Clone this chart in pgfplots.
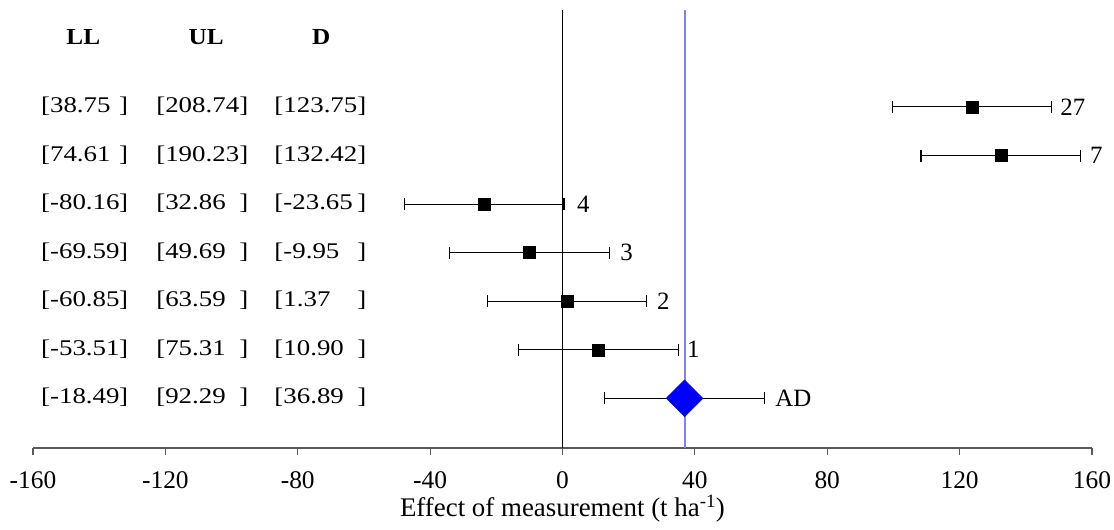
\documentclass[border=0pt]{standalone}
\usepackage{pgfplots}
\pgfplotsset{compat=1.18}
\usepackage{fontspec}
\setmainfont{Liberation Serif}
\newfontfamily\rowfont[FakeStretch=1.2]{Liberation Serif}
\newfontfamily\headfont[FakeStretch=1.1]{Liberation Serif}
\definecolor{axgray}{RGB}{89,89,89}
\definecolor{lblue}{RGB}{128,128,255}
\newcommand{\cL}[1]{\makebox[78bp][l]{[#1}]}
\newcommand{\cU}[1]{\makebox[83bp][l]{[#1}]}
\newcommand{\cD}[1]{\makebox[83bp][l]{[#1}]}
\begin{document}
\begin{tikzpicture}
\path[use as bounding box] (0,0) rectangle (1114bp,530bp);
\begin{axis}[
  at={(33bp,81.7bp)}, anchor=south west,
  scale only axis, width=1059bp, height=438.3bp,
  xmin=-160, xmax=160, ymin=-0.03, ymax=9,
  clip=false,
  axis x line=bottom, axis y line=none,
  x axis line style={-, axgray, line width=1.8bp},
  xtick={-160,-120,-80,-40,0,40,80,120,160},
  xticklabels={-160,-120,-80,-40,0,40,80,120,160},
  tick align=outside, major tick length=7bp,
  xtick style={axgray, line width=1.2bp},
  xticklabel style={font=\fontsize{25.5}{28}\selectfont, inner sep=0pt, anchor=north, yshift=-16bp},
  xlabel={Effect of measurement (t ha\textsuperscript{-1})},
  xlabel style={font=\fontsize{27}{30}\selectfont, at={(axis description cs:0.5,0)}, anchor=base, yshift=-68.4bp, inner sep=0pt},
]
\addplot[black, line width=1.3bp] coordinates {(0,-0.03) (0,9)};
\addplot[lblue, line width=2bp] coordinates {(36.89,-0.03) (36.89,9)};
\addplot[only marks, mark=square*, mark size=6bp, black,
  error bars/.cd, x dir=both, x explicit,
  error bar style={line width=1.1bp, black},
  error mark options={rotate=90, mark size=6bp, line width=1.1bp, black}]
coordinates {
(123.75,7.005) +- (24.1,0)
(132.42,6) +- (24.1,0)
(-23.65,5) +- (24.1,0)
(-9.95,4) +- (24.1,0)
(1.37,3) +- (24.1,0)
(10.90,2) +- (24.1,0)
};
\addplot[only marks, mark=square*, mark size=13bp, blue, mark options={rotate=45, fill=blue, draw=blue},
  error bars/.cd, x dir=both, x explicit,
  error bar style={line width=1.1bp, black},
  error mark options={rotate=90, mark size=6bp, line width=1.1bp, black}]
coordinates {(36.89,1) +- (24.1,0)};
% headers
\begin{scope}[every node/.style={inner sep=0pt, anchor=base, font=\headfont\bfseries\fontsize{23}{26}\selectfont}]
\node at (axis cs:-144.8,8.29) {LL};
\node at (axis cs:-107.7,8.29) {UL};
\node at (axis cs:-72.9,8.29) {D};
\end{scope}
% rows
\begin{scope}[every node/.style={inner sep=0pt, anchor=base west, yshift=-5.5bp, font=\rowfont\fontsize{22.5}{26}\selectfont}]
\node at (axis cs:-157.6,7) {\cL{38.75}};
\node at (axis cs:-122.8,7) {\cU{208.74}};
\node at (axis cs:-87.1,7) {\cD{123.75}};
\node at (axis cs:-157.6,6) {\cL{74.61}};
\node at (axis cs:-122.8,6) {\cU{190.23}};
\node at (axis cs:-87.1,6) {\cD{132.42}};
\node at (axis cs:-157.6,5) {\cL{-80.16}};
\node at (axis cs:-122.8,5) {\cU{32.86}};
\node at (axis cs:-87.1,5) {\cD{-23.65}};
\node at (axis cs:-157.6,4) {\cL{-69.59}};
\node at (axis cs:-122.8,4) {\cU{49.69}};
\node at (axis cs:-87.1,4) {\cD{-9.95}};
\node at (axis cs:-157.6,3) {\cL{-60.85}};
\node at (axis cs:-122.8,3) {\cU{63.59}};
\node at (axis cs:-87.1,3) {\cD{1.37}};
\node at (axis cs:-157.6,2) {\cL{-53.51}};
\node at (axis cs:-122.8,2) {\cU{75.31}};
\node at (axis cs:-87.1,2) {\cD{10.90}};
\node at (axis cs:-157.6,1) {\cL{-18.49}};
\node at (axis cs:-122.8,1) {\cU{92.29}};
\node at (axis cs:-87.1,1) {\cD{36.89}};
\end{scope}
% study labels
\begin{scope}[every node/.style={inner sep=0pt, anchor=west, font=\fontsize{25}{28}\selectfont}]
\node at (axis cs:150.4,7) {27};
\node at (axis cs:159.4,6) {7};
\node at (axis cs:4.35,5) {4};
\node at (axis cs:17.4,4) {3};
\node at (axis cs:28.5,3) {2};
\node at (axis cs:37.6,2) {1};
\node at (axis cs:64.3,1) {AD};
\end{scope}
\end{axis}
\end{tikzpicture}
\end{document}
